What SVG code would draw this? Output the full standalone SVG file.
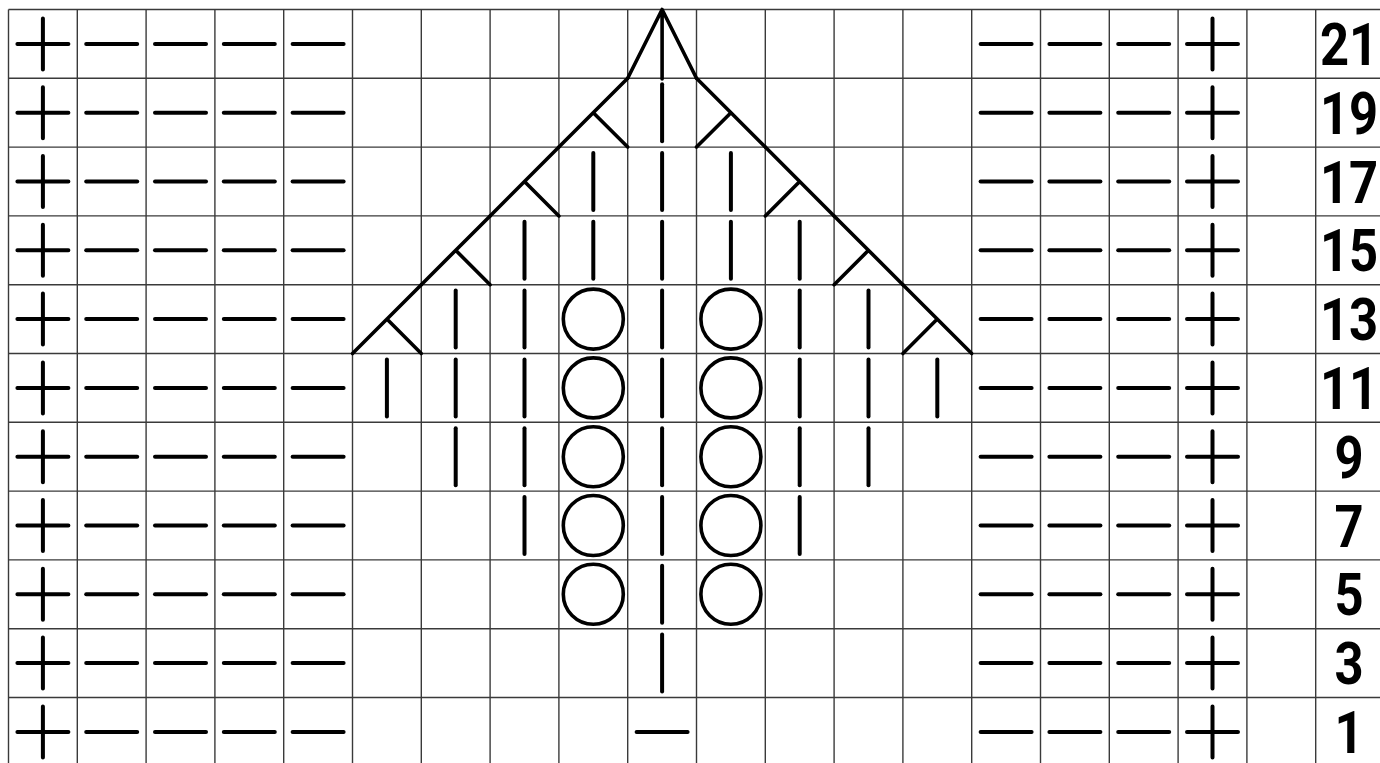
<svg xmlns="http://www.w3.org/2000/svg" xmlns:xlink="http://www.w3.org/1999/xlink" width="1380" height="763" viewBox="0 0 1380 763">
<style>
.grid line{stroke:#3a3a3a;stroke-width:1.4}
.sym{fill:none;stroke:#000;stroke-width:4;stroke-linecap:round;stroke-linejoin:round}
.diag{fill:none;stroke:#000;stroke-width:3.6;stroke-linecap:round;stroke-linejoin:round}
.lbl{font-family:Roboto,"Liberation Sans",sans-serif;font-weight:700;font-size:59px;fill:#000}
</style>
<defs>
<path id="plus" class="sym" d="M-25.5,0H25.5M0,-25.5V25.5"/>
<path id="dash" class="sym" d="M-25.5,0H25.5"/>
<path id="bar" class="sym" d="M0,-28.5V28.5"/>
<circle id="yo" class="sym" r="30" style="stroke-width:3.6"/>
<path id="decL" class="diag" d="M-34.4,34.4L34.4,-34.4M0,0L34.4,34.4"/>
<path id="decR" class="diag" d="M-34.4,-34.4L34.4,34.4M0,0L-34.4,34.4"/>
<path id="peak" class="diag" d="M-34.4,34.4L0,-34.4L34.4,34.4M0,-34.4V35"/>
<g id="leftBorder">
<use xlink:href="#plus" x="42.9"/>
<use xlink:href="#dash" x="111.7"/>
<use xlink:href="#dash" x="180.5"/>
<use xlink:href="#dash" x="249.3"/>
<use xlink:href="#dash" x="318.1"/>
</g>
<g id="rightBorder">
<use xlink:href="#dash" x="1006.1"/>
<use xlink:href="#dash" x="1074.9"/>
<use xlink:href="#dash" x="1143.7"/>
<use xlink:href="#plus" x="1212.5"/>
</g>
</defs>
<rect width="1380" height="763" fill="#fff"/>
<g id="grid" class="grid">
<line x1="8.5" y1="9.5" x2="8.5" y2="763"/>
<line x1="77.3" y1="9.5" x2="77.3" y2="763"/>
<line x1="146.1" y1="9.5" x2="146.1" y2="763"/>
<line x1="214.9" y1="9.5" x2="214.9" y2="763"/>
<line x1="283.7" y1="9.5" x2="283.7" y2="763"/>
<line x1="352.5" y1="9.5" x2="352.5" y2="763"/>
<line x1="421.3" y1="9.5" x2="421.3" y2="763"/>
<line x1="490.1" y1="9.5" x2="490.1" y2="763"/>
<line x1="558.9" y1="9.5" x2="558.9" y2="763"/>
<line x1="627.7" y1="9.5" x2="627.7" y2="763"/>
<line x1="696.5" y1="9.5" x2="696.5" y2="763"/>
<line x1="765.3" y1="9.5" x2="765.3" y2="763"/>
<line x1="834.1" y1="9.5" x2="834.1" y2="763"/>
<line x1="902.9" y1="9.5" x2="902.9" y2="763"/>
<line x1="971.7" y1="9.5" x2="971.7" y2="763"/>
<line x1="1040.5" y1="9.5" x2="1040.5" y2="763"/>
<line x1="1109.3" y1="9.5" x2="1109.3" y2="763"/>
<line x1="1178.1" y1="9.5" x2="1178.1" y2="763"/>
<line x1="1246.9" y1="9.5" x2="1246.9" y2="763"/>
<line x1="1315.7" y1="9.5" x2="1315.7" y2="763"/>
<line x1="8.5" y1="9.5" x2="1380" y2="9.5"/>
<line x1="8.5" y1="78.3" x2="1380" y2="78.3"/>
<line x1="8.5" y1="147.1" x2="1380" y2="147.1"/>
<line x1="8.5" y1="215.9" x2="1380" y2="215.9"/>
<line x1="8.5" y1="284.7" x2="1380" y2="284.7"/>
<line x1="8.5" y1="353.5" x2="1380" y2="353.5"/>
<line x1="8.5" y1="422.3" x2="1380" y2="422.3"/>
<line x1="8.5" y1="491.1" x2="1380" y2="491.1"/>
<line x1="8.5" y1="559.9" x2="1380" y2="559.9"/>
<line x1="8.5" y1="628.7" x2="1380" y2="628.7"/>
<line x1="8.5" y1="697.5" x2="1380" y2="697.5"/>
</g>
<g id="borders">
<use xlink:href="#leftBorder" y="43.9"/><use xlink:href="#rightBorder" y="43.9"/>
<use xlink:href="#leftBorder" y="112.7"/><use xlink:href="#rightBorder" y="112.7"/>
<use xlink:href="#leftBorder" y="181.5"/><use xlink:href="#rightBorder" y="181.5"/>
<use xlink:href="#leftBorder" y="250.3"/><use xlink:href="#rightBorder" y="250.3"/>
<use xlink:href="#leftBorder" y="319.1"/><use xlink:href="#rightBorder" y="319.1"/>
<use xlink:href="#leftBorder" y="387.9"/><use xlink:href="#rightBorder" y="387.9"/>
<use xlink:href="#leftBorder" y="456.7"/><use xlink:href="#rightBorder" y="456.7"/>
<use xlink:href="#leftBorder" y="525.5"/><use xlink:href="#rightBorder" y="525.5"/>
<use xlink:href="#leftBorder" y="594.3"/><use xlink:href="#rightBorder" y="594.3"/>
<use xlink:href="#leftBorder" y="663.1"/><use xlink:href="#rightBorder" y="663.1"/>
<use xlink:href="#leftBorder" y="731.9"/><use xlink:href="#rightBorder" y="731.9"/>
</g>
<g id="pattern">
<g id="row21"><use xlink:href="#peak" x="662.1" y="43.9"/></g>
<g id="row19"><use xlink:href="#decL" x="593.3" y="112.7"/><use xlink:href="#bar" x="662.1" y="112.7"/><use xlink:href="#decR" x="730.9" y="112.7"/></g>
<g id="row17"><use xlink:href="#decL" x="524.5" y="181.5"/><use xlink:href="#bar" x="593.3" y="181.5"/><use xlink:href="#bar" x="662.1" y="181.5"/><use xlink:href="#bar" x="730.9" y="181.5"/><use xlink:href="#decR" x="799.7" y="181.5"/></g>
<g id="row15"><use xlink:href="#decL" x="455.7" y="250.3"/><use xlink:href="#bar" x="524.5" y="250.3"/><use xlink:href="#bar" x="593.3" y="250.3"/><use xlink:href="#bar" x="662.1" y="250.3"/><use xlink:href="#bar" x="730.9" y="250.3"/><use xlink:href="#bar" x="799.7" y="250.3"/><use xlink:href="#decR" x="868.5" y="250.3"/></g>
<g id="row13"><use xlink:href="#decL" x="386.9" y="319.1"/><use xlink:href="#bar" x="455.7" y="319.1"/><use xlink:href="#bar" x="524.5" y="319.1"/><use xlink:href="#yo" x="593.3" y="319.1"/><use xlink:href="#bar" x="662.1" y="319.1"/><use xlink:href="#yo" x="730.9" y="319.1"/><use xlink:href="#bar" x="799.7" y="319.1"/><use xlink:href="#bar" x="868.5" y="319.1"/><use xlink:href="#decR" x="937.3" y="319.1"/></g>
<g id="row11"><use xlink:href="#bar" x="386.9" y="387.9"/><use xlink:href="#bar" x="455.7" y="387.9"/><use xlink:href="#bar" x="524.5" y="387.9"/><use xlink:href="#yo" x="593.3" y="387.9"/><use xlink:href="#bar" x="662.1" y="387.9"/><use xlink:href="#yo" x="730.9" y="387.9"/><use xlink:href="#bar" x="799.7" y="387.9"/><use xlink:href="#bar" x="868.5" y="387.9"/><use xlink:href="#bar" x="937.3" y="387.9"/></g>
<g id="row9"><use xlink:href="#bar" x="455.7" y="456.7"/><use xlink:href="#bar" x="524.5" y="456.7"/><use xlink:href="#yo" x="593.3" y="456.7"/><use xlink:href="#bar" x="662.1" y="456.7"/><use xlink:href="#yo" x="730.9" y="456.7"/><use xlink:href="#bar" x="799.7" y="456.7"/><use xlink:href="#bar" x="868.5" y="456.7"/></g>
<g id="row7"><use xlink:href="#bar" x="524.5" y="525.5"/><use xlink:href="#yo" x="593.3" y="525.5"/><use xlink:href="#bar" x="662.1" y="525.5"/><use xlink:href="#yo" x="730.9" y="525.5"/><use xlink:href="#bar" x="799.7" y="525.5"/></g>
<g id="row5"><use xlink:href="#yo" x="593.3" y="594.3"/><use xlink:href="#bar" x="662.1" y="594.3"/><use xlink:href="#yo" x="730.9" y="594.3"/></g>
<g id="row3"><use xlink:href="#bar" x="662.1" y="663.1"/></g>
<g id="row1"><use xlink:href="#dash" x="662.1" y="731.9"/></g>
</g>
<g id="labels" class="lbl" text-anchor="middle">
<text transform="translate(1349,64.9) scale(0.86,1)">21</text>
<text transform="translate(1349,133.7) scale(0.86,1)">19</text>
<text transform="translate(1349,202.5) scale(0.86,1)">17</text>
<text transform="translate(1349,271.3) scale(0.86,1)">15</text>
<text transform="translate(1349,340.1) scale(0.86,1)">13</text>
<text transform="translate(1349,408.9) scale(0.86,1)">11</text>
<text transform="translate(1349,477.7) scale(0.86,1)">9</text>
<text transform="translate(1349,546.5) scale(0.86,1)">7</text>
<text transform="translate(1349,615.3) scale(0.86,1)">5</text>
<text transform="translate(1349,684.1) scale(0.86,1)">3</text>
<text transform="translate(1349,752.9) scale(0.86,1)">1</text>
</g>
</svg>
